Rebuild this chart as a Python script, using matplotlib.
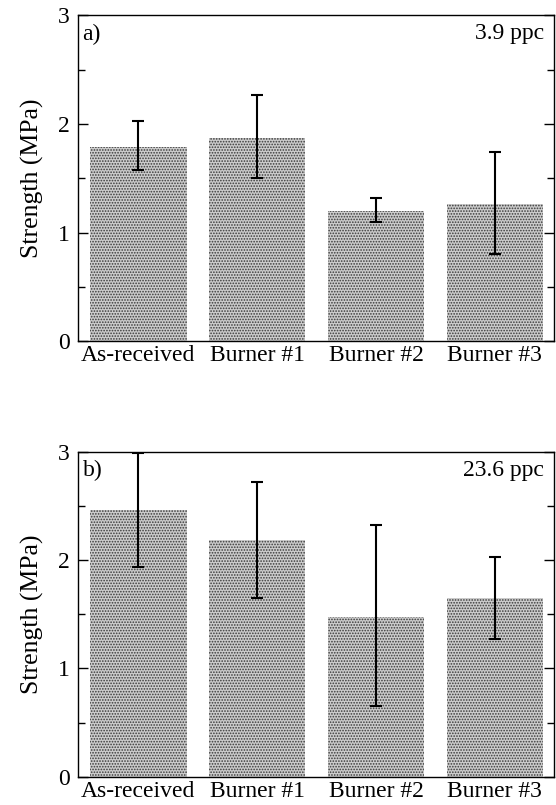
import matplotlib
matplotlib.use("Agg")
import matplotlib.pyplot as plt
from matplotlib.ticker import MultipleLocator

plt.rcParams["font.family"] = ["Liberation Serif", "DejaVu Serif"]
plt.rcParams["hatch.linewidth"] = 0.8

categories = ["As-received", "Burner #1", "Burner #2", "Burner #3"]

# panel a) 3.9 ppc
strength_a = [1.79, 1.87, 1.20, 1.26]
err_low_a = [1.58, 1.50, 1.10, 0.80]
err_high_a = [2.03, 2.27, 1.32, 1.74]

# panel b) 23.6 ppc
strength_b = [2.46, 2.18, 1.47, 1.65]
err_low_b = [1.94, 1.65, 0.65, 1.27]
err_high_b = [2.99, 2.72, 2.32, 2.03]

panels = [
    ("a)", "3.9 ppc", strength_a, err_low_a, err_high_a, [0.140, 0.576, 0.857, 0.405]),
    ("b)", "23.6 ppc", strength_b, err_low_b, err_high_b, [0.140, 0.035, 0.857, 0.404]),
]

fig = plt.figure(figsize=(5.56, 8.05), dpi=100)

for label, ppc, vals, lo, hi, rect in panels:
    ax = fig.add_axes(rect)
    x = list(range(len(categories)))
    ax.bar(x, vals, width=0.81, color="#cccccc", edgecolor="#3a3a3a",
           hatch="......", linewidth=0)
    yerr = [[v - l for v, l in zip(vals, lo)], [h - v for v, h in zip(vals, hi)]]
    ax.errorbar(x, vals, yerr=yerr, fmt="none", ecolor="black",
                elinewidth=1.5, capsize=4, capthick=1.5)
    ax.set_xlim(-0.51, 3.5)
    ax.set_ylim(0, 3)
    ax.set_xticks(x)
    ax.set_xticklabels(categories, fontsize=17)
    ax.yaxis.set_major_locator(MultipleLocator(1))
    ax.yaxis.set_minor_locator(MultipleLocator(0.5))
    ax.tick_params(axis="y", which="both", direction="in", right=True, labelsize=17)
    ax.tick_params(axis="y", which="major", length=7, width=1, pad=6)
    ax.tick_params(axis="y", which="minor", length=5, width=1)
    ax.tick_params(axis="x", length=0, pad=3)
    ax.set_ylabel("Strength (MPa)", fontsize=18.5, labelpad=10)
    for s in ax.spines.values():
        s.set_linewidth(1.0)
    ax.text(0.01, 0.975, label, transform=ax.transAxes, ha="left", va="top", fontsize=17)
    ax.text(0.978, 0.975, ppc, transform=ax.transAxes, ha="right", va="top", fontsize=17)

fig.savefig("out.png", dpi=100)
